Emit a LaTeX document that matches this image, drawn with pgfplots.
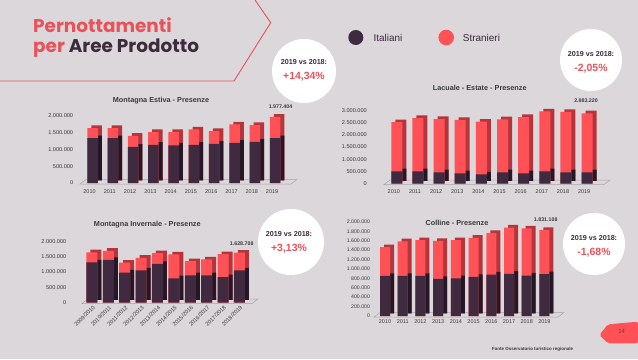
\documentclass[border=0pt]{standalone}
\usepackage{pgfplots}
\pgfplotsset{compat=1.18}
\usepackage{pgfplotstable}
\usepackage{fontspec}
\setmainfont{Liberation Sans}
\newfontfamily\popp{Poppins}
\definecolor{bg}{HTML}{DCD7DA}
\definecolor{redf}{HTML}{FF5156}
\definecolor{reds}{HTML}{B8343B}
\definecolor{purf}{HTML}{3F2A40}
\definecolor{purs}{HTML}{251726}
\definecolor{coral}{HTML}{E8525A}
\definecolor{titled}{HTML}{3B2B3C}
\definecolor{txt}{HTML}{3A3A3A}
\definecolor{floorc}{HTML}{A9A4A7}

\pgfplotstableread{
x ita tot
0 1340000 1640000
1 1340000 1640000
2 1080000 1410000
3 1140000 1520000
4 1120000 1520000
5 1140000 1600000
6 1170000 1550000
7 1200000 1750000
8 1230000 1730000
9 1340000 1977404
}\estiva
\pgfplotstableread{
x ita tot
0 500000 2520000
1 500000 2690000
2 460000 2650000
3 420000 2610000
4 370000 2540000
5 460000 2640000
6 420000 2730000
7 500000 2960000
8 460000 2943600
9 460000 2883220
}\lacuale
\pgfplotstableread{
x ita tot
0 1310000 1640000
1 1390000 1690000
2 980000 1300000
3 1050000 1460000
4 1260000 1610000
5 790000 1570000
6 890000 1350000
7 890000 1410000
8 830000 1579000
9 1050000 1628708
}\invernale
\pgfplotstableread{
x ita tot
0 854000 1466000
1 854000 1590000
2 854000 1612000
3 788000 1598000
4 803000 1612000
5 832000 1663000
6 883000 1765000
7 898000 1882000
8 861000 1862400
9 891000 1831108
}\colline

\pgfplotsset{
 panel/.style={
  scale only axis, anchor=south west, ybar, clip=false,
  enlargelimits=false, xmin=-0.7, xmax=9.8, ymin=0,
  axis line style={draw=none}, major tick length=0pt,
  xtick={0,...,9},
  scaled y ticks=false,
  yticklabel style={font=\fontsize{5.6}{6}\selectfont, text=txt, inner sep=0pt, anchor=east},
  xticklabel style={font=\fontsize{5.5}{6}\selectfont, text=txt, inner sep=0pt},
  /pgf/number format/fixed, /pgf/number format/precision=0,
  /pgf/number format/1000 sep={.}, /pgf/number format/assume math mode=true,
 },
 backr/.style={fill=reds, draw=none, bar shift=4bp, yshift=2.6bp},
 backp/.style={fill=purs, draw=none, bar shift=4bp, yshift=2.6bp},
 frontr/.style={fill=redf, draw=none, bar shift=0bp},
 frontp/.style={fill=purf, draw=none, bar shift=0bp},
}

\begin{document}
\begin{tikzpicture}
\begin{scope}[x=1bp,y=1bp]
\fill[bg] (0,0) rectangle (638,359);
\path[use as bounding box] (0,0) rectangle (638,359);

% decoration
\draw[coral, line width=0.9bp] (255,359) -- (270.7,336.3) -- (234,278) -- (0,278);
\node[anchor=west, inner sep=0pt, text=coral, font=\popp\bfseries\fontsize{18.5}{20}\selectfont] at (33,334) {Pernottamenti};
\node[anchor=west, inner sep=0pt, font=\popp\bfseries\fontsize{18.5}{20}\selectfont] at (33,311) {\textcolor{coral}{per} \textcolor{titled}{Aree Prodotto}};

% legend
\fill[purf] (355.8,321.5) circle (7.5);
\node[anchor=west, inner sep=0pt, text=titled, font=\fontsize{10}{12}\selectfont] at (373.3,321) {Italiani};
\fill[redf] (446.2,321.5) circle (7.8);
\node[anchor=west, inner sep=0pt, text=titled, font=\fontsize{10}{12}\selectfont] at (462.7,321) {Stranieri};

% floors
\draw[floorc, line width=0.5bp] (80,175) -- (291,175) -- (297,179.5) -- (86,179.5) -- cycle;
\draw[floorc, line width=0.5bp] (384,174.5) -- (604,174.5) -- (610,179) -- (390,179) -- cycle;
\draw[floorc, line width=0.5bp] (82,55.5) -- (252,55.5) -- (258,60) -- (88,60) -- cycle;
\draw[floorc, line width=0.5bp] (374,42) -- (558,42) -- (564,46.5) -- (380,46.5) -- cycle;
\end{scope}

% chart 1
\begin{axis}[panel, at={(78.3bp,176bp)}, width=213bp, height=67bp, ymax=2000000,
  bar width=10.5bp, ytick={0,500000,...,2000000},
  yticklabel style={xshift=-5bp},
  xticklabels={2010,2011,2012,2013,2014,2015,2016,2017,2018,2019},
  xticklabel style={anchor=north, yshift=-6bp, xshift=-3bp}]
\addplot[backr] table[x=x,y=tot]{\estiva};
\addplot[backp] table[x=x,y=ita]{\estiva};
\addplot[frontr] table[x=x,y=tot]{\estiva};
\addplot[frontp] table[x=x,y=ita]{\estiva};
\end{axis}

% chart 2
\begin{axis}[panel, at={(382bp,175.5bp)}, width=222bp, height=73bp, ymax=3000000,
  bar width=11bp, ytick={0,500000,...,3000000},
  yticklabel style={xshift=-15bp},
  xticklabels={2010,2011,2012,2013,2014,2015,2016,2017,2018,2019},
  xticklabel style={anchor=north, yshift=-6bp, xshift=-3bp}]
\addplot[backr] table[x=x,y=tot]{\lacuale};
\addplot[backp] table[x=x,y=ita]{\lacuale};
\addplot[frontr] table[x=x,y=tot]{\lacuale};
\addplot[frontp] table[x=x,y=ita]{\lacuale};
\end{axis}

% chart 3
\begin{axis}[panel, at={(80.5bp,56.5bp)}, width=172bp, height=61.2bp, ymax=2000000,
  bar width=11bp, ytick={0,500000,...,2000000},
  yticklabel style={xshift=-14bp},
  xticklabels={2009/2010,2010/2011,2011/2012,2012/2013,2013/2014,2014/2015,2015/2016,2016/2017,2017/2018,2018/2019},
  xticklabel style={xshift=2bp, yshift=-4bp, rotate=45, anchor=east, font=\fontsize{5.6}{6}\selectfont}]
\addplot[backr] table[x=x,y=tot]{\invernale};
\addplot[backp] table[x=x,y=ita]{\invernale};
\addplot[frontr] table[x=x,y=tot]{\invernale};
\addplot[frontp] table[x=x,y=ita]{\invernale};
\end{axis}

% chart 4
\begin{axis}[panel, at={(372.6bp,43bp)}, width=186bp, height=94bp, ymax=2000000,
  bar width=10bp, ytick={0,200000,...,2000000},
  yticklabel style={xshift=-2.5bp, font=\fontsize{5.2}{6}\selectfont},
  xticklabels={2010,2011,2012,2013,2014,2015,2016,2017,2018,2019},
  xticklabel style={anchor=north, yshift=-3.7bp}]
\addplot[backr] table[x=x,y=tot]{\colline};
\addplot[backp] table[x=x,y=ita]{\colline};
\addplot[frontr] table[x=x,y=tot]{\colline};
\addplot[frontp] table[x=x,y=ita]{\colline};
\end{axis}

\begin{scope}[x=1bp,y=1bp]
% chart titles and value labels
\begin{scope}[every node/.style={inner sep=0pt, text=txt}]
\node[font=\bfseries\fontsize{7.3}{8}\selectfont] at (161,258) {Montagna Estiva - Presenze};
\node[font=\bfseries\fontsize{5.3}{6}\selectfont] at (280.5,252.3) {1.977.404};
\node[font=\bfseries\fontsize{7.3}{8}\selectfont] at (479.7,270.7) {Lacuale - Estate - Presenze};
\node[font=\bfseries\fontsize{5.3}{6}\selectfont] at (586,258) {2.883.220};
\node[font=\bfseries\fontsize{7.3}{8}\selectfont] at (147.3,134) {Montagna Invernale - Presenze};
\node[font=\bfseries\fontsize{5.3}{6}\selectfont] at (241.7,115.7) {1.628.708};
\node[font=\bfseries\fontsize{7.3}{8}\selectfont] at (457,135.7) {Colline - Presenze};
\node[font=\bfseries\fontsize{5.3}{6}\selectfont] at (545.7,139) {1.831.108};
\end{scope}

% circles
\fill[white] (304,288) circle (32);
\fill[white] (591,299) circle (31);
\fill[white] (291,117) circle (33);
\fill[white] (594,115) circle (31);
\begin{scope}[every node/.style={inner sep=0pt}]
\node[text=titled, font=\bfseries\fontsize{7.2}{8}\selectfont] at (304,296.7) {2019 vs 2018:};
\node[text=coral, font=\bfseries\fontsize{10.5}{12}\selectfont] at (304,282.3) {+14,34\%};
\node[text=titled, font=\bfseries\fontsize{7.2}{8}\selectfont] at (591,304.7) {2019 vs 2018:};
\node[text=coral, font=\bfseries\fontsize{10.5}{12}\selectfont] at (591,290.7) {-2,05\%};
\node[text=titled, font=\bfseries\fontsize{7.2}{8}\selectfont] at (289,125) {2019 vs 2018:};
\node[text=coral, font=\bfseries\fontsize{10.5}{12}\selectfont] at (289,110) {+3,13\%};
\node[text=titled, font=\bfseries\fontsize{7.2}{8}\selectfont] at (594,120.7) {2019 vs 2018:};
\node[text=coral, font=\bfseries\fontsize{10.5}{12}\selectfont] at (594,106.7) {-1,68\%};
\end{scope}

% page badge and source
\fill[redf, rounded corners=2bp] (599.3,24) -- (608,34.7) -- (638,37.3) -- (638,15.7) -- (608,15.7) -- cycle;
\node[inner sep=0pt, text=reds!80!black, font=\fontsize{6}{7}\selectfont] at (621.7,27.3) {14};
\node[inner sep=0pt, text=txt, font=\bfseries\fontsize{4.5}{5}\selectfont] at (532.5,9.7) {Fonte Osservatorio turistico regionale};
\end{scope}
\end{tikzpicture}
\end{document}
